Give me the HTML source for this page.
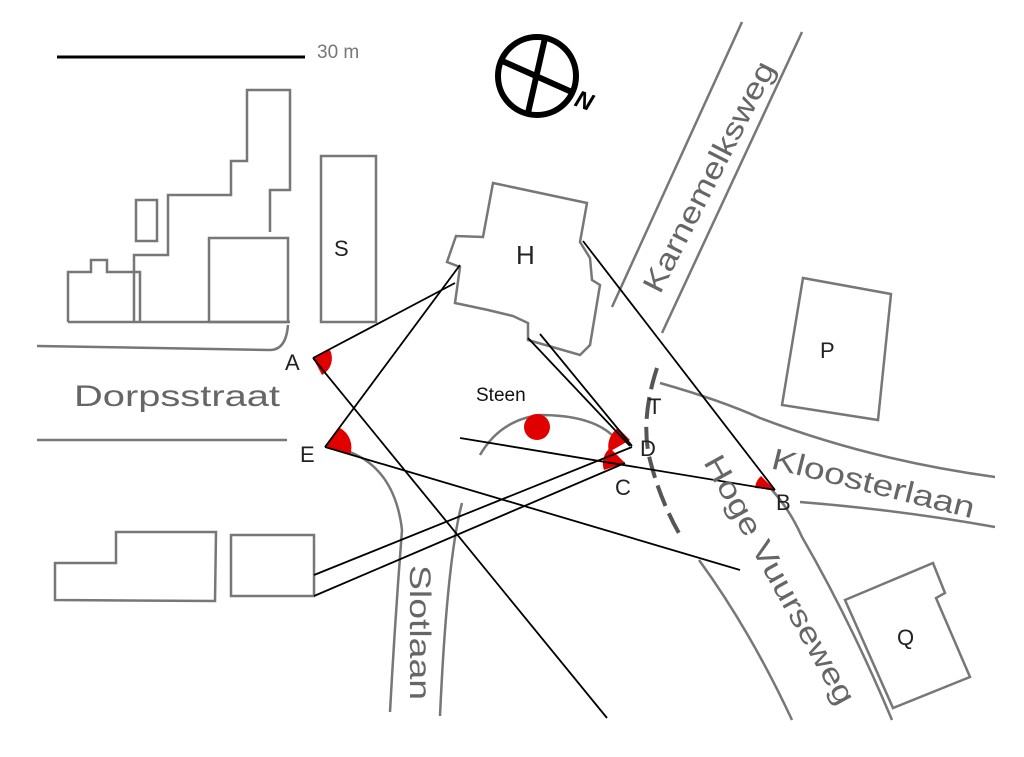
<!DOCTYPE html>
<html><head><meta charset="utf-8"><style>
html,body{margin:0;padding:0;background:#fff;}
svg{display:block;}
text{font-family:"Liberation Sans",sans-serif;}
</style></head><body>
<svg width="1024" height="757" viewBox="0 0 1024 757" xmlns="http://www.w3.org/2000/svg">
<rect width="1024" height="757" fill="#fff"/>
<line x1="57" y1="57" x2="305" y2="57" stroke="#000" stroke-width="3"/>
<text x="317" y="58" font-size="19" fill="#777">30 m</text>
<circle cx="537" cy="76" r="39" fill="none" stroke="#000" stroke-width="6"/>
<line x1="500" y1="60" x2="574" y2="93" stroke="#000" stroke-width="6"/>
<line x1="545" y1="38" x2="528" y2="113" stroke="#000" stroke-width="6"/>
<text x="576" y="110" font-size="24" font-weight="bold" font-style="italic" fill="#000" transform="rotate(20 588 100)">N</text>

<g fill="none" stroke="#777" stroke-width="2.5" stroke-linejoin="miter">
<polyline points="68,322 68,272 91,272 91,260 107,260 107,272 140,272 140,322"/>
<polyline points="134,322 134,255 168,255 168,195 231,195 231,161 247,161 247,90 290,90 290,190 270,190 270,232"/>
<rect x="136" y="200" width="21" height="41"/>
<rect x="209" y="238" width="79" height="84"/>
<line x1="68" y1="322" x2="290" y2="322"/>
<rect x="321" y="156" width="55" height="166"/>
<path d="M37,346 L270,350 Q286,350 288,325"/>
<line x1="37" y1="440" x2="287" y2="440"/>
<polygon points="493,183 587,203 580,242 590,258 592,280 600,285 590,345 580,355 528,340 528,323 513,316 488,310 455,303 460,267 447,262 456,236 483,237"/>
<line x1="742" y1="22" x2="612" y2="307"/>
<line x1="802" y1="32" x2="662" y2="333"/>
<polygon points="803,278 891,294 878,420 782,405"/>
<path d="M660,383 Q720,400 760,418 Q870,460 995,477"/>
<path d="M800,502 Q900,510 995,527"/>
<path d="M699,560 Q750,630 792,720"/>
<path d="M772,490 Q790,510 802,537 Q850,620 892,720"/>
<polygon points="845,600 933,563 945,593 936,598 970,677 893,708"/>
<path d="M350,452 Q395,470 402,530 Q395,620 390,712"/>
<path d="M462,503 Q447,560 440,716"/>
<path d="M480,455 Q500,420 540,415 Q590,415 612,435"/>
<polygon points="55,600 55,563 116,563 116,532 216,532 215,601"/>
<rect x="231" y="535" width="83" height="61"/>
</g>
<path d="M657,368 Q640,420 650,460 Q660,500 680,535" fill="none" stroke="#555" stroke-width="4" stroke-dasharray="22,8"/>

<g fill="#e00000">
<path d="M313,358 L330,350 A19,19 0 0 1 322,375 Z"/>
<path d="M325,447 L340,428 A22,22 0 0 1 350,455 Z"/>
<path d="M630,440 L618,428 A22,22 0 0 0 609,452 Z"/>
<path d="M625,463 L610,448 A20,20 0 0 0 604,470 Z"/>
<path d="M775,490 L761,476 A18,18 0 0 0 755,488 Z"/>
</g>
<circle cx="537" cy="427" r="13" fill="#e00000"/>

<g stroke="#000" stroke-width="1.8" fill="none">
<line x1="313" y1="358" x2="455" y2="283"/>
<line x1="313" y1="358" x2="607" y2="718"/>
<line x1="325" y1="447" x2="460" y2="265"/>
<line x1="325" y1="447" x2="740" y2="570"/>
<line x1="460" y1="438" x2="775" y2="490"/>
<line x1="775" y1="490" x2="583" y2="241"/>
<line x1="528" y1="338" x2="630" y2="446"/>
<line x1="540" y1="334" x2="632" y2="446"/>
<line x1="314" y1="575" x2="632" y2="447"/>
<line x1="314" y1="596" x2="625" y2="463"/>
</g>

<g font-size="22" fill="#222">
<text x="285" y="370">A</text>
<text x="300" y="462">E</text>
<text x="640" y="456">D</text>
<text x="615" y="495">C</text>
<text x="776" y="510">B</text>
<text x="648" y="414">T</text>
<text x="334" y="256">S</text>
<text x="516" y="264" font-size="26">H</text>
<text x="820" y="358">P</text>
<text x="897" y="645">Q</text>
</g>
<text x="476" y="401" font-size="19" fill="#111">Steen</text>
<g fill="#666" font-size="30">
<text x="74" y="406" textLength="206" lengthAdjust="spacingAndGlyphs">Dorpsstraat</text>
<text x="0" y="0" textLength="255" lengthAdjust="spacingAndGlyphs" transform="translate(660,295) rotate(-63)">Karnemelksweg</text>
<text x="0" y="0" textLength="208" lengthAdjust="spacingAndGlyphs" transform="translate(770,468) rotate(14)">Kloosterlaan</text>
<text x="0" y="0" textLength="280" lengthAdjust="spacingAndGlyphs" transform="translate(703,462) rotate(61)">Hoge Vuurseweg</text>
<text x="0" y="0" textLength="135" lengthAdjust="spacingAndGlyphs" transform="translate(410,565) rotate(90)">Slotlaan</text>
</g>
</svg>
</body></html>
